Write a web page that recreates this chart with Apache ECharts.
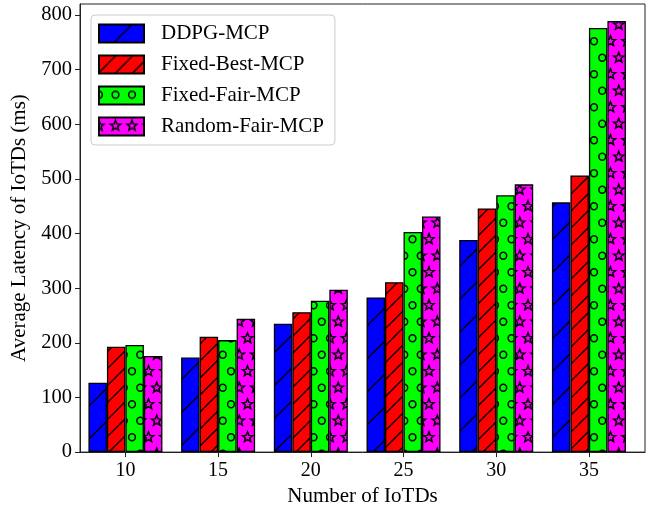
<!DOCTYPE html>
<html>
<head>
<meta charset="utf-8">
<script src="https://cdn.jsdelivr.net/npm/echarts@6/dist/echarts.min.js"></script>
<style>html,body{margin:0;padding:0;background:#fff}#c{width:652px;height:512px}</style>
</head>
<body>
<div id="c"></div>
<script>
const categories = ['10', '15', '20', '25', '30', '35'];
const seriesNames = ['DDPG-MCP', 'Fixed-Best-MCP', 'Fixed-Fair-MCP', 'Random-Fair-MCP'];
const ddpg = [127, 173, 235, 283, 388, 457];
const fixedBest = [193, 211, 256, 311, 446, 506];
const fixedFair = [196, 205, 277, 403, 470, 776];
const randomFair = [176, 244, 297, 431, 490, 789];
const yTicks = [0, 100, 200, 300, 400, 500, 600, 700, 800];

const FONT = '"Liberation Serif", "Times New Roman", serif';

function tile(w, h, bg, draw) {
  const c = document.createElement('canvas');
  c.width = w; c.height = h;
  const g = c.getContext('2d');
  g.fillStyle = bg; g.fillRect(0, 0, w, h);
  g.strokeStyle = '#000';
  draw(g, w, h);
  return { image: c, repeat: 'repeat' };
}
function hatch(bg, P, lw) {
  return tile(P, P, bg, (g) => {
    g.lineWidth = lw;
    g.beginPath();
    for (let k = -1; k <= 1; k++) { g.moveTo(k * P, P); g.lineTo(k * P + P, 0); }
    g.stroke();
  });
}
function gridShapes(bg, S, drawShape) {
  return tile(S, S, bg, (g) => {
    g.lineWidth = 1.5;
    const h = S / 2, Q = S / 4;
    for (let r = -1; r <= 2; r++) {
      const y = r * h + Q;
      const off = (Math.abs(r) % 2 === 0) ? 0 : Q;
      for (let cc = -1; cc <= 4; cc++) drawShape(g, off + cc * h, y);
    }
  });
}
function circle(g, x, y) { g.beginPath(); g.arc(x, y, 3.4, 0, Math.PI * 2); g.stroke(); }
function star(g, x, y) {
  const R = 5.4, r = 2.3;
  g.beginPath();
  for (let i = 0; i < 10; i++) {
    const a = -Math.PI / 2 + i * Math.PI / 5;
    const rr = i % 2 === 0 ? R : r;
    const px = x + rr * Math.cos(a), py = y + rr * Math.sin(a);
    i === 0 ? g.moveTo(px, py) : g.lineTo(px, py);
  }
  g.closePath(); g.stroke();
}

const fills = [
  hatch('#0000ff', 33, 1.4),
  hatch('#ff0000', 17, 1.4),
  gridShapes('#00ff00', 33, circle),
  gridShapes('#ff00ff', 33, star)
];
const values = [ddpg, fixedBest, fixedFair, randomFair];

const chart = echarts.init(document.getElementById('c'), null, { renderer: 'canvas' });
chart.setOption({
  animation: false,
  backgroundColor: '#fff',
  textStyle: { fontFamily: FONT },
  grid: { left: 80, right: 7, top: 4, bottom: 54, show: true, borderColor: '#222', borderWidth: 1, backgroundColor: 'transparent' },
  legend: {
    orient: 'vertical', left: 91, top: 15,
    icon: 'rect', itemWidth: 45, itemHeight: 18, itemGap: 10,
    padding: [8, 11, 8, 7],
    backgroundColor: '#fff', borderColor: '#ccc', borderWidth: 1, borderRadius: 4,
    textStyle: { fontFamily: FONT, fontSize: 21, color: '#000', padding: [0, 0, 0, 12] },
    data: seriesNames,
    selectedMode: false
  },
  xAxis: {
    type: 'value', min: -0.49, max: 5.605,
    name: 'Number of IoTDs', nameLocation: 'middle', nameGap: 31,
    nameTextStyle: { fontFamily: FONT, fontSize: 21, color: '#000' },
    axisLine: { show: true, onZero: false, lineStyle: { color: '#222', width: 1 } },
    axisTick: { show: true, inside: false, length: 5, lineStyle: { color: '#222' }, customValues: [0, 1, 2, 3, 4, 5] },
    axisLabel: { fontFamily: FONT, fontSize: 20, color: '#000', margin: 9, customValues: [0, 1, 2, 3, 4, 5], formatter: (v) => categories[Math.round(v)] },
    splitLine: { show: false }
  },
  yAxis: {
    type: 'value', min: 0, max: 820,
    name: 'Average Latency of IoTDs (ms)', nameLocation: 'middle', nameGap: 49,
    nameTextStyle: { fontFamily: FONT, fontSize: 21, color: '#000' },
    axisLine: { show: true, onZero: false, lineStyle: { color: '#222', width: 1 } },
    axisTick: { show: true, inside: false, length: 5, lineStyle: { color: '#222' }, customValues: yTicks },
    axisLabel: { fontFamily: FONT, fontSize: 20.5, color: '#000', margin: 8, customValues: yTicks },
    splitLine: { show: false }
  },
  series: seriesNames.map((name, i) => ({
    name, type: 'bar',
    barWidth: 18.5, barGap: '0%',
    data: values[i].map((v, k) => [k, v]),
    itemStyle: { color: fills[i], borderColor: '#000', borderWidth: 1.3 },
    emphasis: { disabled: true }
  }))
});
</script>
</body>
</html>
